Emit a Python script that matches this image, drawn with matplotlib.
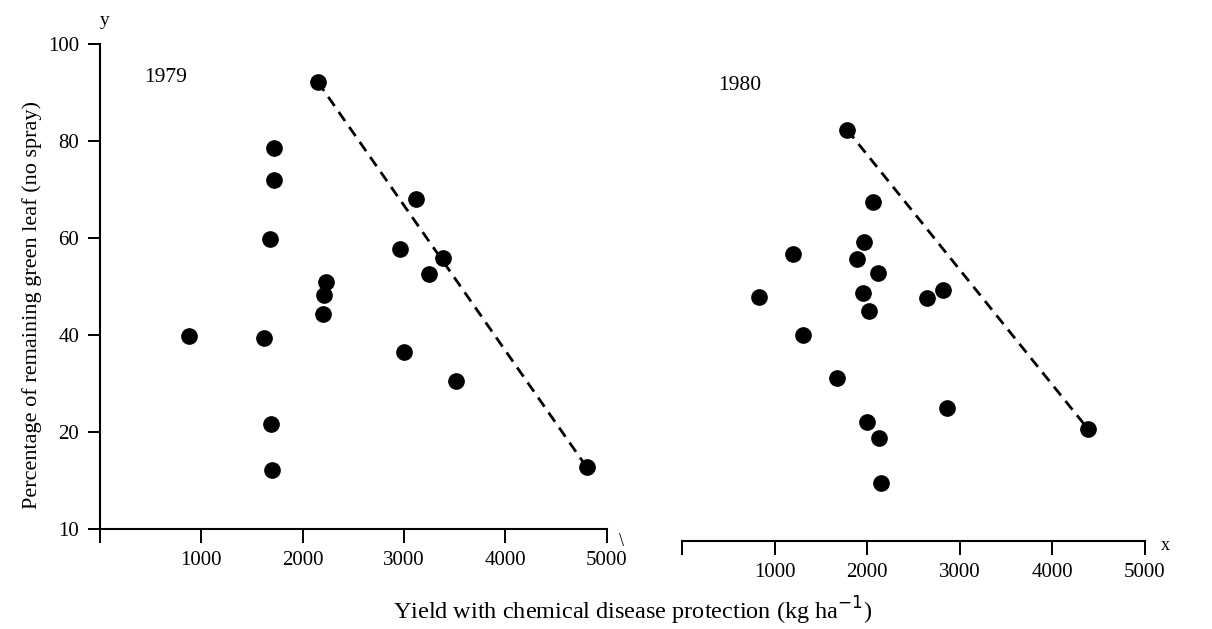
import matplotlib
matplotlib.use("Agg")
import matplotlib.pyplot as plt

plt.rcParams['font.family'] = ['Liberation Serif', 'DejaVu Serif']

# ---- data ----
x1979 = [2149, 1713, 1713, 1673, 3119, 2960, 2228, 2208, 2198, 881, 1614,
         3000, 1683, 1693, 3386, 3248, 3515, 4802]
y1979 = [92.2, 78.6, 72.0, 59.8, 68.0, 57.7, 51.0, 48.2, 44.3, 39.8, 39.4,
         36.5, 21.6, 12.2, 55.9, 52.6, 30.5, 12.8]
line1979_x = [2149, 4802]
line1979_y = [92.2, 12.8]

x1980 = [1782, 2063, 1965, 1199, 1890, 2117, 832, 1955, 2020, 2646, 2819,
         1307, 1674, 2862, 1998, 2127, 2149, 4384]
y1980 = [84.8, 69.8, 61.6, 59.2, 58.1, 55.3, 50.3, 51.1, 47.4, 50.1, 51.8,
         42.5, 33.6, 27.4, 24.5, 21.2, 12.0, 23.1]
line1980_x = [1782, 4384]
line1980_y = [84.8, 23.1]

xticks = [0, 1000, 2000, 3000, 4000, 5000]
xticklabels = ["", "1000", "2000", "3000", "4000", "5000"]
yticks = [0, 20, 40, 60, 80, 100]
yticklabels = ["10", "20", "40", "60", "80", "100"]

fig = plt.figure(figsize=(12.12, 6.29), dpi=100)
ax1 = fig.add_axes([0.0825, 0.159, 0.418, 0.771])
ax2 = fig.add_axes([0.5627, 0.140, 0.382, 0.771])

tick_fs = 15
for ax in (ax1, ax2):
    ax.set_xlim(0, 5000)
    ax.set_ylim(0, 100)
    ax.spines['top'].set_visible(False)
    ax.spines['right'].set_visible(False)
    ax.spines['bottom'].set_linewidth(1.5)
    ax.spines['left'].set_linewidth(1.5)
    ax.set_xticks(xticks)
    ax.set_xticklabels(xticklabels, fontsize=tick_fs)
    ax.tick_params(axis='x', direction='out', length=10, width=1.4, pad=6)
    ax.patch.set_alpha(0)

ax1.set_yticks(yticks)
ax1.set_yticklabels(yticklabels, fontsize=tick_fs)
ax1.tick_params(axis='y', direction='out', length=9, width=1.4, pad=6)

ax2.spines['left'].set_visible(False)
ax2.set_yticks([])

ms = 11
ax1.plot(line1979_x, line1979_y, color='black', lw=2.0, ls=(0, (4, 2.6)), zorder=2)
ax1.plot(x1979, y1979, 'o', color='black', ms=ms, zorder=3, clip_on=False)
ax2.plot(line1980_x, line1980_y, color='black', lw=2.0, ls=(0, (4, 2.6)), zorder=2)
ax2.plot(x1980, y1980, 'o', color='black', ms=ms, zorder=3, clip_on=False)

ax1.text(644, 93.2, "1979", fontsize=15.5, ha='center', va='center')
ax2.text(626, 94.0, "1980", fontsize=15.5, ha='center', va='center')

# axis letters and break mark
ax1.text(0.01, 1.03, "y", transform=ax1.transAxes, fontsize=14, ha='center', va='bottom')
ax1.text(1.03, -0.025, "\\", transform=ax1.transAxes, fontsize=13, ha='center', va='center')
ax2.text(1.045, -0.01, "x", transform=ax2.transAxes, fontsize=13, ha='center', va='center')

fig.text(0.0262, 0.515, "Percentage of remaining green leaf (no spray)",
         rotation=90, fontsize=16, ha='center', va='center')
fig.text(0.522, 0.028, "Yield with chemical disease protection (kg ha$^{-1}$)",
         fontsize=17.5, ha='center', va='center')

fig.savefig("out.png", dpi=100)
